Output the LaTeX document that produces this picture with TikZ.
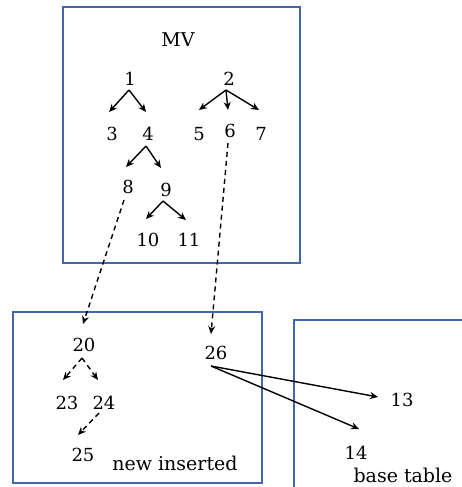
\documentclass[tikz,border=0pt]{standalone}
\usepackage{fontspec}
\setmainfont{DejaVu Serif}
\usetikzlibrary{arrows.meta}

\definecolor{boxblue}{RGB}{68,102,172}

\tikzset{
  panel/.style={draw=boxblue,line width=1.6pt},
  num/.style={inner sep=1pt,font=\fontsize{18}{20}\selectfont},
  lbl/.style={inner sep=0pt,font=\fontsize{19}{21}\selectfont},
  link/.style={-{Stealth[length=8pt,width=7pt]},line width=1.4pt},
  copy/.style={link,dash pattern=on 5pt off 4pt}
}

\begin{document}
\begin{tikzpicture}[x=1pt,y=-1pt]
  \useasboundingbox (0,0) rectangle (462,487);
  \clip (0,0) rectangle (462,487);
  % panels
  \draw[panel] (63,7) rectangle (300,263);
  \draw[panel] (13,312) rectangle (262,483);
  \draw[panel] (294,500) -- (294,320) -- (470,320);
  \node[lbl] at (178,40) (mv) {MV};
  \node[lbl] at (175,463) (newins) {new inserted};
  \node[lbl] at (403,475) (base) {base table};
  % MV tree
  \node[num] at (130,79) (n1) {1};
  \node[num] at (229,79) (n2) {2};
  \node[num] at (112,134) (n3) {3};
  \node[num] at (148,134) (n4) {4};
  \node[num] at (199,134) (n5) {5};
  \node[num] at (230,131) (n6) {6};
  \node[num] at (261,134) (n7) {7};
  \node[num] at (128,187) (n8) {8};
  \node[num] at (166,190) (n9) {9};
  \node[num] at (148,240) (n10) {10};
  \node[num] at (189,240) (n11) {11};
  \coordinate (t1) at (129,90);
  \coordinate (t2) at (226,90);
  \coordinate (t4) at (146,146);
  \coordinate (t9) at (163,201);
  \draw[link] (t1) -- (109,112);
  \draw[link] (t1) -- (146,112);
  \draw[link] (t2) -- (199,110);
  \draw[link] (t2) -- (228,110);
  \draw[link] (t2) -- (259,110);
  \draw[link] (t4) -- (126,167);
  \draw[link] (t4) -- (161,168);
  \draw[link] (t9) -- (146,219);
  \draw[link] (t9) -- (186,220);
  % new inserted tree
  \node[num] at (84,345) (n20) {20};
  \node[num] at (216,353) (n26) {26};
  \node[num] at (67,403) (n23) {23};
  \node[num] at (104,403) (n24) {24};
  \node[num] at (83,455) (n25) {25};
  \coordinate (t20) at (82,358);
  \draw[copy] (t20) -- (63,380);
  \draw[copy] (t20) -- (98,380);
  \draw[copy] (99,413) -- (78,435);
  % base table
  \node[num] at (402,400) (n13) {13};
  \node[num] at (356,453) (n14) {14};
  \coordinate (t26) at (211,366);
  \draw[link] (t26) -- (378,397);
  \draw[link] (t26) -- (359,429);
  % references into the new rows
  \draw[copy] (124,200) -- (83,324);
  \draw[copy] (228,143) -- (211,334);
\end{tikzpicture}
\end{document}
